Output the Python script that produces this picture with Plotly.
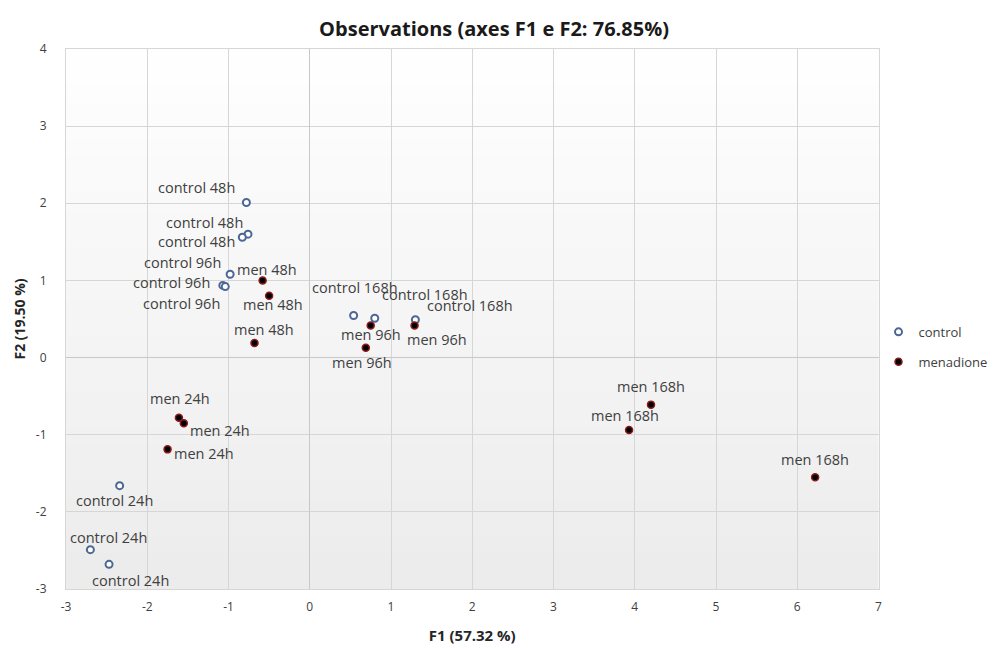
import plotly.graph_objects as go

# ---- data ----
control_x = [-0.78, -0.76, -0.83, -0.98, -1.07, -1.04, 0.54, 0.80, 1.30, -2.34, -2.70, -2.47]
control_y = [2.01, 1.60, 1.56, 1.08, 0.935, 0.92, 0.545, 0.51, 0.49, -1.66, -2.49, -2.68]
control_labels = ["control 48h", "control 48h", "control 48h",
                  "control 96h", "control 96h", "control 96h",
                  "control 168h", "control 168h", "control 168h",
                  "control 24h", "control 24h", "control 24h"]

men_x = [-0.58, -0.50, -0.68, 0.75, 0.69, 1.29, -1.61, -1.55, -1.75, 4.20, 3.93, 6.22]
men_y = [1.00, 0.80, 0.19, 0.415, 0.126, 0.415, -0.78, -0.85, -1.19, -0.61, -0.94, -1.55]
men_labels = ["men 48h", "men 48h", "men 48h",
              "men 96h", "men 96h", "men 96h",
              "men 24h", "men 24h", "men 24h",
              "men 168h", "men 168h", "men 168h"]

x_ticks = [-3, -2, -1, 0, 1, 2, 3, 4, 5, 6, 7]
y_ticks = [-3, -2, -1, 0, 1, 2, 3, 4]

# label offsets in pixels (style only: dx right, dy down)
control_off = [(-50, -15), (-44, -12), (-46, 4), (-48, -12), (-51, -3), (-44, 17),
               (1, -28), (50, -24), (55, -14), (-5, 15), (18, -12), (21, 16)]
men_off = [(4, -11), (4, 9), (9, -13), (0, 9), (-4, 15), (22, 14),
           (1, -19), (36, 7), (36, 4), (0, -18), (-4, -15), (0, -18)]

label_font = dict(family="Open Sans, Noto Sans, sans-serif", size=14.5, color="#404040")

fig = go.Figure()
fig.add_trace(go.Scatter(
    x=control_x, y=control_y, mode="markers", name="control",
    legendgroup="c",
    marker=dict(symbol="circle", size=7, color="white",
                line=dict(color="#4a6796", width=2)),
))
fig.add_trace(go.Scatter(
    x=men_x, y=men_y, mode="markers", name="menadione",
    legendgroup="m",
    marker=dict(symbol="circle", size=7, color="black",
                line=dict(color="#8b1a1a", width=1.5)),
))

annotations = []
for xs, ys, labs, offs in [(control_x, control_y, control_labels, control_off),
                           (men_x, men_y, men_labels, men_off)]:
    for xv, yv, lab, (dx, dy) in zip(xs, ys, labs, offs):
        annotations.append(dict(x=xv, y=yv, xref="x", yref="y", text=lab,
                                showarrow=False, xanchor="center", yanchor="middle",
                                xshift=dx, yshift=-dy, font=label_font))

# vertical gradient background (white top -> light grey bottom)
n = 30
shapes = []
for i in range(n):
    v = int(255 - (255 - 236) * (i + 0.5) / n)
    shapes.append(dict(type="rect", xref="paper", yref="paper",
                       x0=0, x1=1, y0=1 - (i + 1) / n, y1=1 - i / n,
                       fillcolor=f"rgb({v},{v},{v})", line=dict(width=0),
                       layer="below"))

axis_common = dict(showgrid=True, gridcolor="#d6d6d6", gridwidth=1,
                   zeroline=True, zerolinecolor="#c8c8c8", zerolinewidth=1,
                   showline=True, linecolor="#d6d6d6", mirror=True,
                   ticks="", tickfont=dict(family="Open Sans, sans-serif",
                                           size=12, color="#404040"))

fig.update_layout(
    width=996, height=648,
    paper_bgcolor="white", plot_bgcolor="white",
    margin=dict(l=58, r=121, t=41, b=67),
    shapes=shapes,
    annotations=annotations,
    title=dict(text="<b>Observations (axes F1 e F2: 76.85%)</b>",
               x=0.488, xref="container", xanchor="center", y=0.968, yanchor="middle",
               font=dict(family="Open Sans, sans-serif", size=20, color="#1a1a1a")),
    xaxis=dict(range=[-3, 7], tickvals=x_ticks, ticktext=[str(t) for t in x_ticks],
               ticklabelstandoff=7, automargin=False,
               title=dict(text="<b>F1 (57.32 %)</b>", standoff=16,
                          font=dict(family="Open Sans, sans-serif", size=15, color="#262626")),
               **axis_common),
    yaxis=dict(range=[-3, 4], tickvals=y_ticks, ticktext=[str(t) for t in y_ticks],
               ticklabelstandoff=16, automargin=False,
               title=dict(text="<b>F2 (19.50 %)</b>", standoff=6,
                          font=dict(family="Open Sans, sans-serif", size=14, color="#262626")),
               **axis_common),
    legend=dict(xref="container", yref="container", x=0.874, y=0.477,
                xanchor="left", yanchor="middle", itemwidth=30,
                font=dict(family="Open Sans, sans-serif", size=13, color="#404040"),
                bgcolor="rgba(0,0,0,0)", tracegroupgap=10),
    showlegend=True,
)

fig.write_html("out.html")
